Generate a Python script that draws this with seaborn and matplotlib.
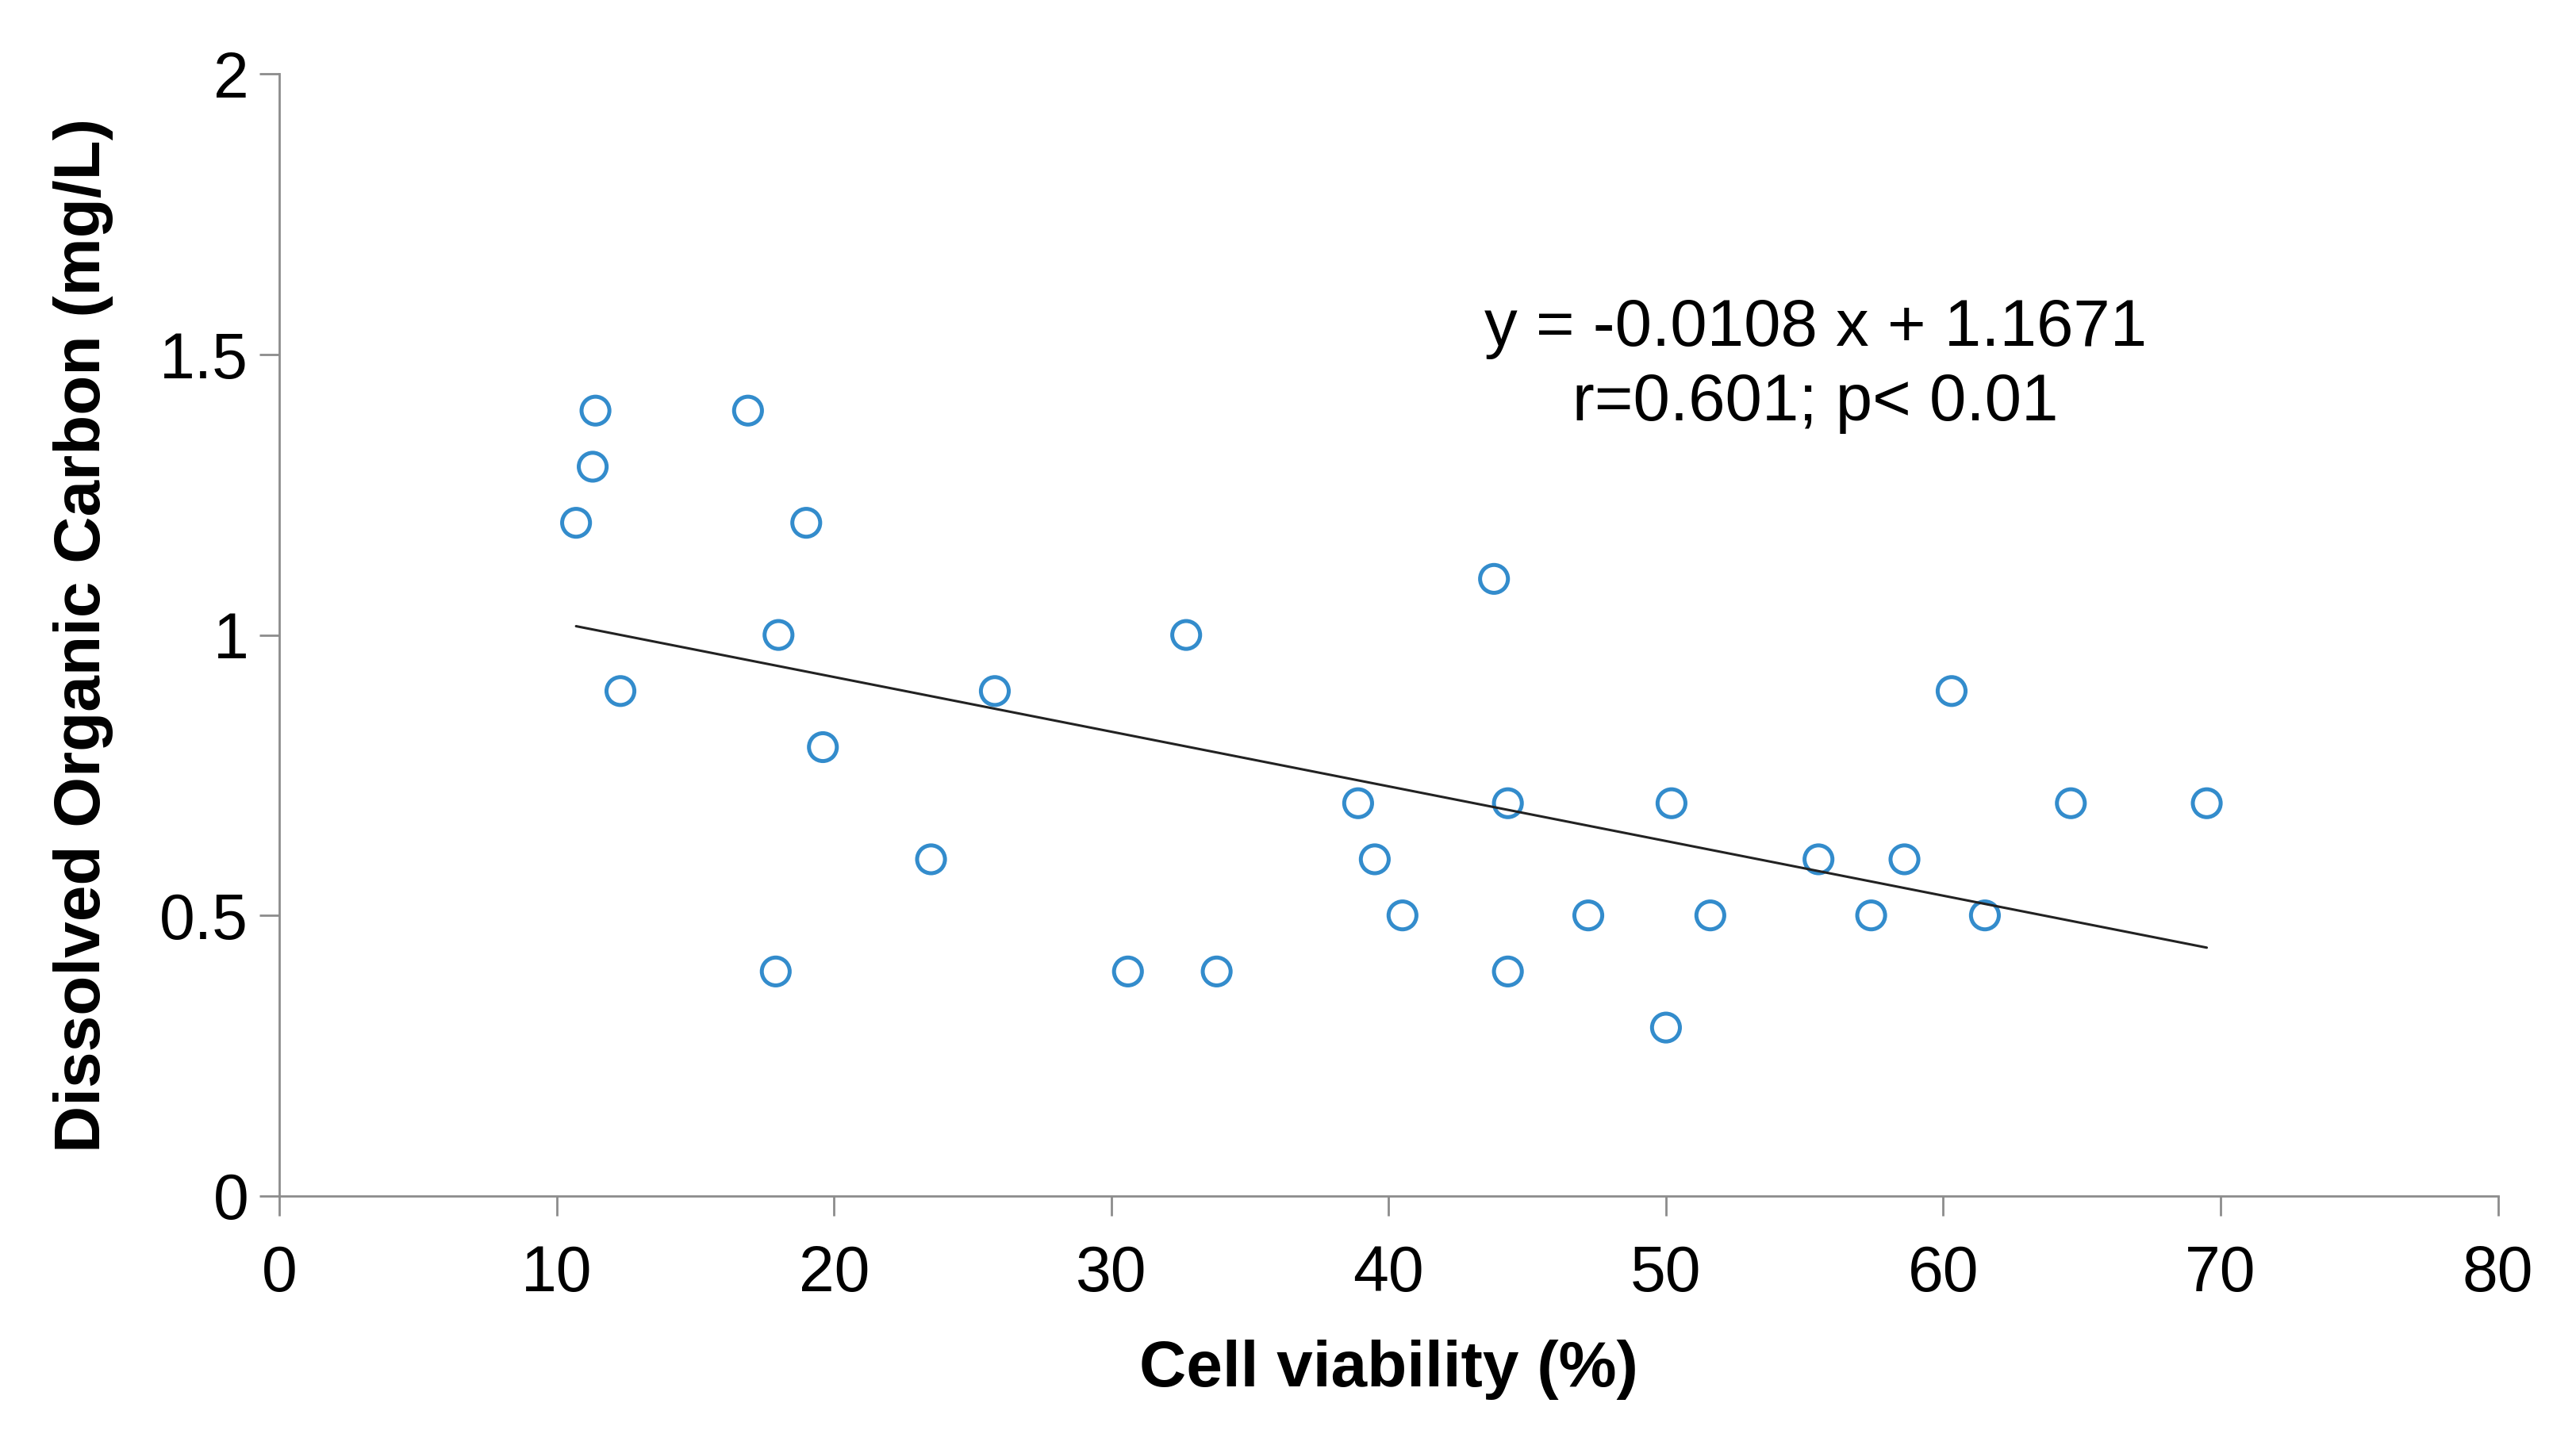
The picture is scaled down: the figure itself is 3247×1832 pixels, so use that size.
import numpy as np
import pandas as pd
import seaborn as sns
import matplotlib.pyplot as plt
from matplotlib.ticker import FuncFormatter

# values
viability = [10.7, 11.4, 11.3, 12.3, 16.9, 19.0, 18.0, 19.6, 17.9, 23.5,
             25.8, 30.6, 32.7, 33.8, 38.9, 39.5, 40.5, 43.8, 44.3, 44.3,
             47.2, 50.2, 50.0, 51.6, 55.5, 57.4, 58.6, 60.3, 61.5, 64.6, 69.5]
doc = [1.2, 1.4, 1.3, 0.9, 1.4, 1.2, 1.0, 0.8, 0.4, 0.6,
       0.9, 0.4, 1.0, 0.4, 0.7, 0.6, 0.5, 1.1, 0.7, 0.4,
       0.5, 0.7, 0.3, 0.5, 0.6, 0.5, 0.6, 0.9, 0.5, 0.7, 0.7]
eq_text = ['y = -0.0108 x + 1.1671', 'r=0.601; p< 0.01']

data = pd.DataFrame({'viability': viability, 'doc': doc})

sns.set_style('white')
plt.rcParams['font.family'] = ['Liberation Sans', 'DejaVu Sans']
plt.rcParams['text.color'] = 'black'
plt.rcParams['axes.labelcolor'] = 'black'
plt.rcParams['xtick.color'] = 'black'
plt.rcParams['ytick.color'] = 'black'

fig, ax = plt.subplots(figsize=(16.24, 9.16), dpi=200)
fig.subplots_adjust(left=0.1084, right=0.9694, top=0.949, bottom=0.177)

sns.regplot(x='viability', y='doc', data=data, ci=None, ax=ax,
            scatter_kws={'s': 160, 'facecolors': 'none', 'edgecolors': '#0070C0',
                         'linewidths': 1.8},
            line_kws={'color': '#222222', 'linewidth': 1.1})

ax.set_xlim(0, 80)
ax.set_ylim(0, 2)
ax.set_xticks(np.arange(0, 81, 10))
ax.set_yticks([0, 0.5, 1, 1.5, 2])
ax.yaxis.set_major_formatter(FuncFormatter(lambda v, p: f'{v:g}'))

for s in ['top', 'right']:
    ax.spines[s].set_visible(False)
for s in ['left', 'bottom']:
    ax.spines[s].set_color('#8c8c8c')
    ax.spines[s].set_linewidth(1.0)
ax.tick_params(axis='both', which='major', length=9, width=1.0, color='#8c8c8c',
               labelsize=29, labelcolor='black', direction='out')
ax.tick_params(axis='y', pad=5)
ax.tick_params(axis='x', pad=13)
ax.tick_params(left=True, bottom=True)

ax.set_xlabel('Cell viability (%)', fontsize=29.5, fontweight='bold', labelpad=16)
ax.set_ylabel('Dissolved Organic Carbon (mg/L)', fontsize=29.5, fontweight='bold', labelpad=21)

ax.text(55.4, 1.546, eq_text[0], fontsize=30, ha='center', va='center')
ax.text(55.4, 1.414, eq_text[1], fontsize=30, ha='center', va='center')

plt.savefig('out.png', dpi=200)
